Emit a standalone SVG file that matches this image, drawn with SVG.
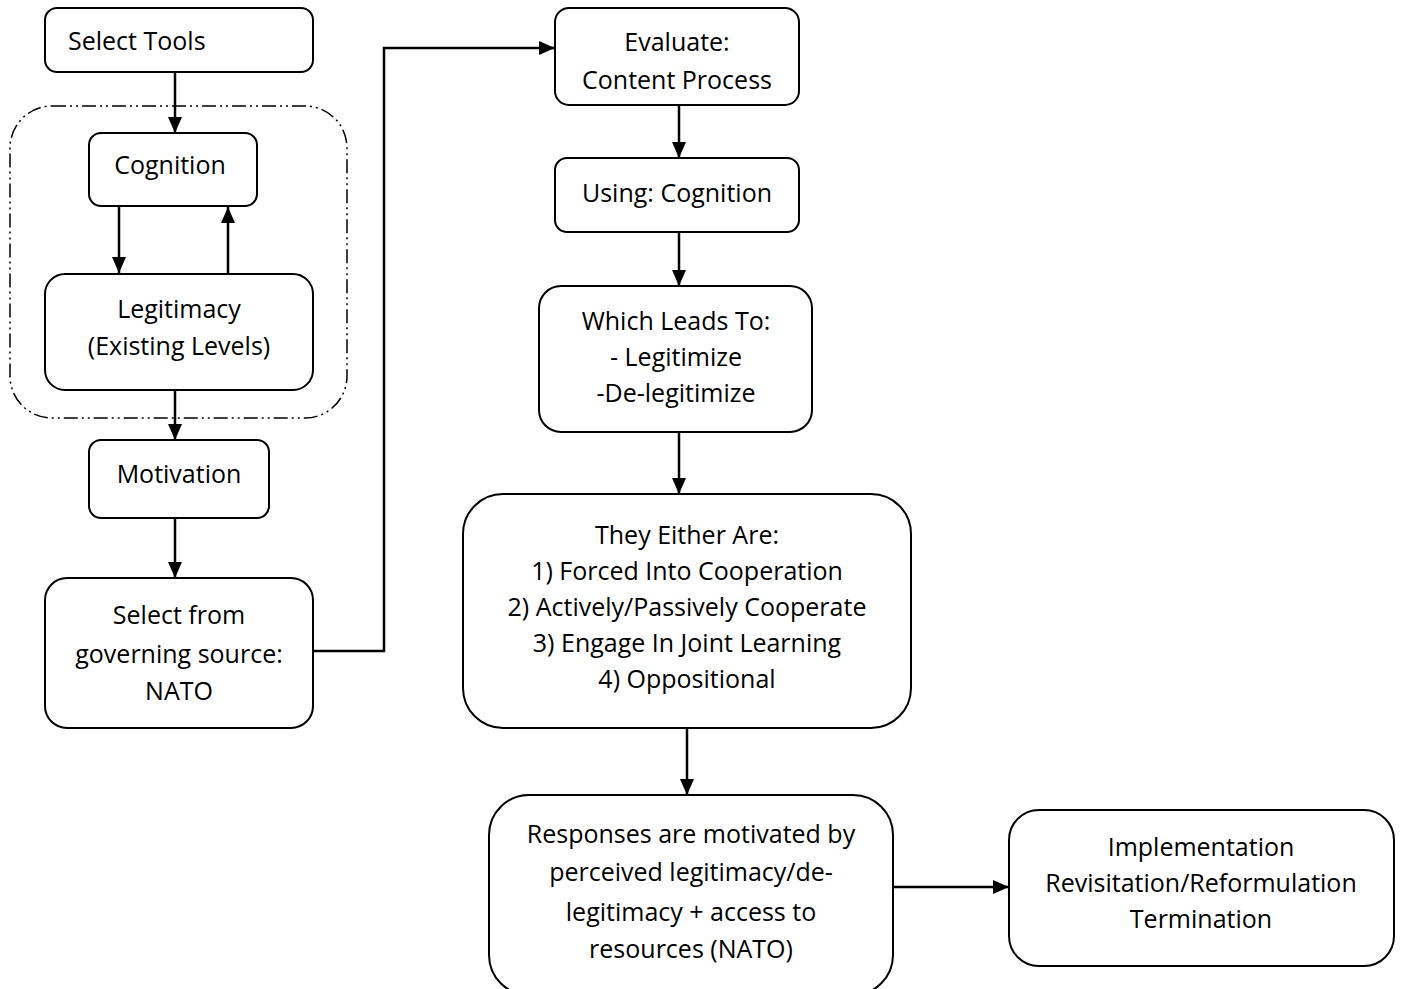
<svg xmlns="http://www.w3.org/2000/svg" width="1403" height="989" viewBox="0 0 1403 989">
<style>
.box{fill:#fff;stroke:#000;stroke-width:2}
.t{font-family:"Open Sans","Liberation Sans",sans-serif;font-size:25px;fill:#000;text-anchor:middle}
.c{fill:none;stroke:#000;stroke-width:2.5}
</style>
<defs>
<marker id="ah" viewBox="0 0 16 14" refX="16" refY="7" markerWidth="16" markerHeight="14" markerUnits="userSpaceOnUse" orient="auto">
<path d="M0,0 L16,7 L0,14 Z" fill="#000"/>
</marker>
</defs>
<rect width="1403" height="989" fill="#fff"/>
<g id="group-container">
<rect x="10" y="106" width="337" height="312" rx="42" fill="none" stroke="#000" stroke-width="1.5" stroke-dasharray="14,4,2,4,2,4"/>
</g>
<g id="connectors">
<line class="c" x1="175" y1="72" x2="175" y2="133" marker-end="url(#ah)"/>
<line class="c" x1="119" y1="206" x2="119" y2="273" marker-end="url(#ah)"/>
<line class="c" x1="228" y1="273" x2="228" y2="207" marker-end="url(#ah)"/>
<line class="c" x1="175" y1="390" x2="175" y2="440" marker-end="url(#ah)"/>
<line class="c" x1="175" y1="518" x2="175" y2="578" marker-end="url(#ah)"/>
<polyline class="c" points="313,651 384,651 384,48 555,48" marker-end="url(#ah)"/>
<line class="c" x1="679" y1="105" x2="679" y2="158" marker-end="url(#ah)"/>
<line class="c" x1="679" y1="232" x2="679" y2="286" marker-end="url(#ah)"/>
<line class="c" x1="679" y1="432" x2="679" y2="494" marker-end="url(#ah)"/>
<line class="c" x1="687" y1="728" x2="687" y2="795" marker-end="url(#ah)"/>
<line class="c" x1="893" y1="887" x2="1009" y2="887" marker-end="url(#ah)"/>
</g>
<g id="select-tools">
<rect class="box" x="45" y="8" width="268" height="64" rx="12"/>
<text class="t" x="68" y="50" style="text-anchor:start">Select Tools</text>
</g>
<g id="cognition">
<rect class="box" x="89" y="133" width="168" height="73" rx="12"/>
<text class="t" x="170" y="174">Cognition</text>
</g>
<g id="legitimacy">
<rect class="box" x="45" y="274" width="268" height="116" rx="20"/>
<text class="t" x="179" y="318">Legitimacy</text>
<text class="t" x="179" y="355">(Existing Levels)</text>
</g>
<g id="motivation">
<rect class="box" x="89" y="440" width="180" height="78" rx="12"/>
<text class="t" x="179" y="483">Motivation</text>
</g>
<g id="select-source">
<rect class="box" x="45" y="578" width="268" height="150" rx="22"/>
<text class="t" x="179" y="624">Select from</text>
<text class="t" x="179" y="663">governing source:</text>
<text class="t" x="179" y="700">NATO</text>
</g>
<g id="evaluate">
<rect class="box" x="555" y="8" width="244" height="97" rx="14"/>
<text class="t" x="677" y="51">Evaluate:</text>
<text class="t" x="677" y="89">Content Process</text>
</g>
<g id="using-cognition">
<rect class="box" x="555" y="158" width="244" height="74" rx="12"/>
<text class="t" x="677" y="202">Using: Cognition</text>
</g>
<g id="which-leads">
<rect class="box" x="539" y="286" width="273" height="146" rx="22"/>
<text class="t" x="676" y="330">Which Leads To:</text>
<text class="t" x="676" y="366">- Legitimize</text>
<text class="t" x="676" y="402">-De-legitimize</text>
</g>
<g id="they-either">
<rect class="box" x="463" y="494" width="448" height="234" rx="40"/>
<text class="t" x="687" y="544">They Either Are:</text>
<text class="t" x="687" y="580">1) Forced Into Cooperation</text>
<text class="t" x="687" y="616">2) Actively/Passively Cooperate</text>
<text class="t" x="687" y="652">3) Engage In Joint Learning</text>
<text class="t" x="687" y="688">4) Oppositional</text>
</g>
<g id="responses">
<rect class="box" x="489" y="795" width="404" height="200" rx="40"/>
<text class="t" x="691" y="843">Responses are motivated by</text>
<text class="t" x="691" y="881">perceived legitimacy/de-</text>
<text class="t" x="691" y="921">legitimacy + access to</text>
<text class="t" x="691" y="958">resources (NATO)</text>
</g>
<g id="implementation">
<rect class="box" x="1009" y="810" width="385" height="156" rx="30"/>
<text class="t" x="1201" y="856">Implementation</text>
<text class="t" x="1201" y="892">Revisitation/Reformulation</text>
<text class="t" x="1201" y="928">Termination</text>
</g>
</svg>
